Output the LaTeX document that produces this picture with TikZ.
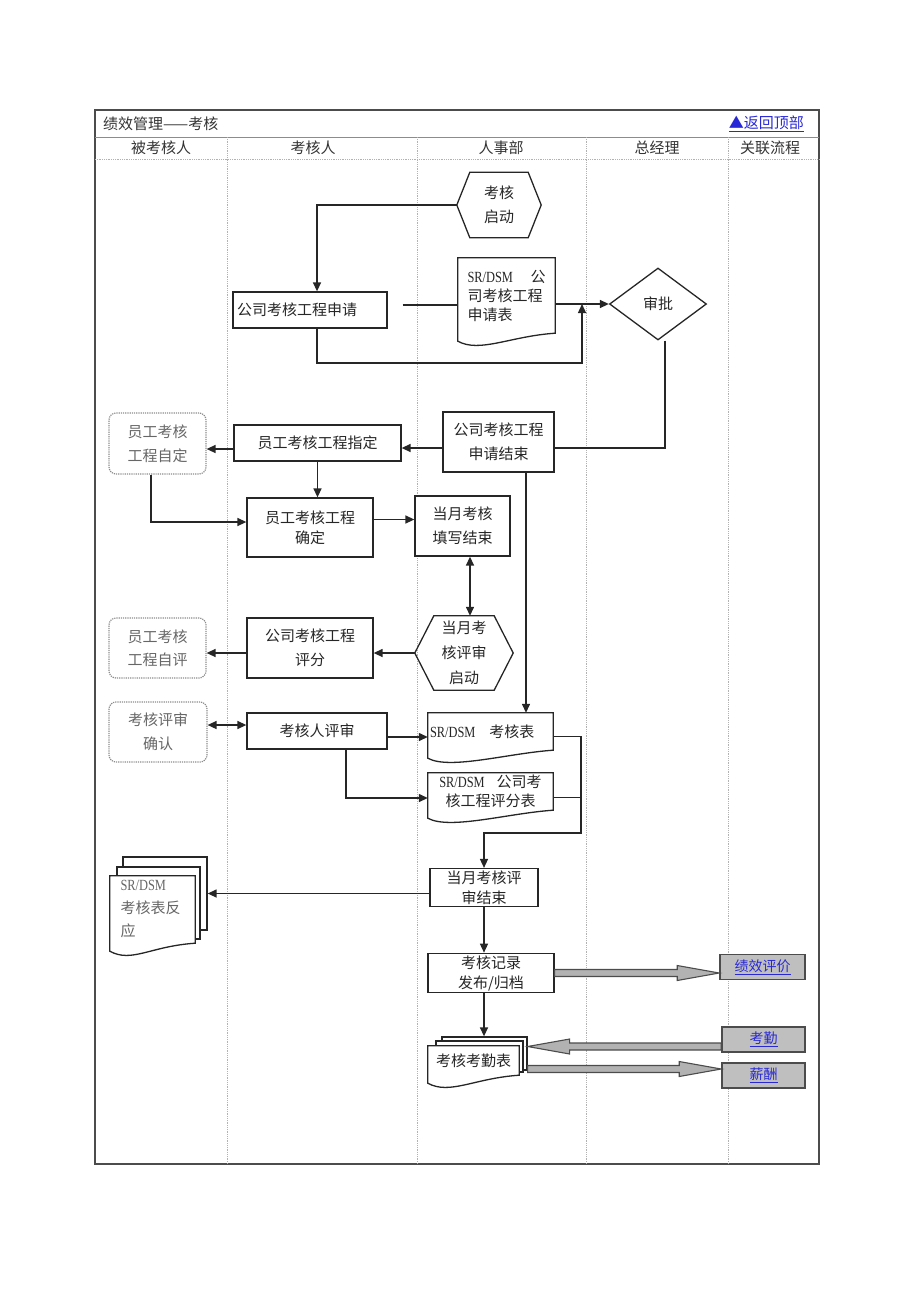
\documentclass[tikz,border=0pt]{standalone}
\usepackage{fontspec}
\setmainfont{Liberation Serif}
\newfontfamily\cjk{Noto Sans CJK SC}
\newfontfamily\latfont{Liberation Serif}[FakeStretch=0.8]
\usetikzlibrary{arrows.meta,calc,shapes.geometric}
\definecolor{linkblue}{RGB}{40,40,215}
\newcommand{\lat}[1]{{\latfont\fontsize{15.5}{15.5}\selectfont #1}}
\tikzset{
  cjkfont/.style={font=\cjk\fontsize{15}{24}\selectfont},
  tight/.style={font=\cjk\fontsize{15}{20}\selectfont},
  headtext/.style={font=\cjk\fontsize{15}{18}\selectfont, text=black!80, inner sep=0pt},
  flowbox/.style={draw=black!85, line width=1.3pt, fill=white, text=black!85, cjkfont, align=center, inner sep=2pt},
  selfbox/.style={draw=black!45, densely dotted, line width=1.2pt, rounded corners=7pt, text=black!60, cjkfont, align=center},
  docbox/.style={fill=white, text=black!85, cjkfont, inner sep=2pt},
  docback/.style={draw=black!85, line width=1.3pt, fill=white, inner sep=0pt},
  hexbox/.style={text=black!85, cjkfont, align=center},
  linkbox/.style={draw=black!70, line width=1.6pt, fill=black!25, text=linkblue, font=\cjk\fontsize{14}{16}\selectfont, inner sep=0pt},
  flowline/.style={line width=1.4pt, draw=black!85, >={Triangle[length=9pt,width=8pt]}},
  boxline/.style={line width=1.3pt, draw=black!85},
  blockfill/.style={draw=black!70, line width=1.1pt, fill=black!30},
  divider/.style={draw=black!30, densely dotted, line width=0.8pt}
}
% document outline with wavy bottom
\newcommand{\docframe}[1]{%
  \draw[boxline] (#1.south east) -- (#1.north east) -- (#1.north west) -- ([yshift=-8pt]#1.south west)
    .. controls ($(#1.south west)+(22,-20)$) and ($(#1.south east)+(-45,-3)$) .. (#1.south east) -- cycle;}
% hexagon outline round a node
\newcommand{\hexframe}[2]{%
  \draw[boxline] (#1.west) -- ([xshift=#2]#1.north west) -- ([xshift=-#2]#1.north east) -- (#1.east)
    -- ([xshift=-#2]#1.south east) -- ([xshift=#2]#1.south west) -- cycle;}
% wide grey arrow, horizontal
\newcommand{\blockarrow}[2]{%
  \path[blockfill] let \p1=(#1), \p2=(#2), \n1={sign(\x2-\x1)} in
    (\x1,\y1+3.5pt) -- (\x2-42pt*\n1,\y1+3.5pt) -- (\x2-42pt*\n1,\y1+7.5pt) -- (\x2,\y1)
    -- (\x2-42pt*\n1,\y1-7.5pt) -- (\x2-42pt*\n1,\y1-3.5pt) -- (\x1,\y1-3.5pt) -- cycle;}

\begin{document}
\begin{tikzpicture}[x=1pt,y=1pt]
    \useasboundingbox (0,0) rectangle (920,-1302);
    % table
    \draw[black!70, line width=1.2pt] (95,-110) rectangle (819,-1164);
    \draw[black!45, line width=0.8pt] (95,-137) -- (819,-137);
    \draw[divider] (95,-159) -- (819,-159);
    \foreach \xc in {227,417,586,728} \draw[divider] (\xc,-137) -- (\xc,-1164);

    \node[headtext, anchor=west] (title) at (103,-124) {绩效管理——考核};
    \node[headtext, anchor=east, text=linkblue] (totop) at (804,-124) {\underline{▲返回顶部}};
    \node[headtext] (lane1) at (161,-148) {被考核人};
    \node[headtext] (lane2) at (313,-148) {考核人};
    \node[headtext] (lane3) at (501,-148) {人事部};
    \node[headtext] (lane4) at (657,-148) {总经理};
    \node[headtext] (lane5) at (770,-148) {关联流程};

    % application
    \node[hexbox, minimum width=84pt, minimum height=65pt] (kstart) at (499,-205) {考核\\启动};
    \hexframe{kstart}{13pt}
    \node[flowbox, text width=146pt, align=left, inner xsep=4pt, minimum height=36pt] (apply) at (310,-310) {公司考核工程申请};
    \node[docbox, text width=78pt, align=left, inner xsep=9.5pt, minimum height=75pt, font=\cjk\fontsize{15}{19}\selectfont] (appform) at (506.5,-295.5) {\lat{SR/DSM}\hfill 公\\司考核工程\\申请表};
    \docframe{appform}
    \node[flowbox, diamond, minimum width=97pt, minimum height=72pt, inner sep=0pt] (approve) at (658,-304) {审批};
    \coordinate (joinA) at (582,-304);
    \coordinate (loopA) at (582,-363);

    \draw[flowline,->] (kstart.west) -| ([xshift=7pt]apply.north);
    \draw[flowline] ([xshift=15pt,yshift=5pt]apply.east) -- ([yshift=5pt]apply.east -| appform.west);
    \draw[flowline,->] (appform.east |- approve.west) -- (approve.west);
    \draw[flowline,->] ([xshift=7pt]apply.south) |- (loopA) -- (joinA);

    % assignment
    \node[flowbox, minimum width=111pt, minimum height=60pt] (appdone) at (498.5,-442) {公司考核工程\\申请结束};
    \node[flowbox, minimum width=167pt, minimum height=36pt] (assign) at (317.5,-443) {员工考核工程指定};
    \node[selfbox, minimum width=97pt, minimum height=61pt] (selfset) at (157.5,-443.5) {员工考核\\工程自定};
    \node[flowbox, tight, minimum width=126pt, minimum height=59pt] (confirm) at (310,-527.5) {员工考核工程\\确定};
    \node[flowbox, minimum width=95pt, minimum height=60pt] (filldone) at (462.5,-526) {当月考核\\填写结束};

    \draw[flowline] ([xshift=7pt]approve.south) |- ([yshift=-6pt]appdone.east);
    \draw[flowline,->] ([yshift=-6pt]appdone.west) -- ([yshift=-6pt]appdone.west -| assign.east);
    \draw[flowline,->] ([yshift=-6pt]assign.west) -- ([yshift=-6pt]assign.west -| selfset.east);
    \draw[flowline,->] (assign.south) -- (assign.south |- confirm.north);
    \draw[flowline,->] ([xshift=-6.5pt]selfset.south) |- ([yshift=5.5pt]confirm.west);
    \draw[flowline,->] ([yshift=8pt]confirm.east) -- ([yshift=8pt]confirm.east -| filldone.west);

    % review
    \node[hexbox, font=\cjk\fontsize{15}{25}\selectfont, minimum width=98pt, minimum height=74pt] (rvstart) at (464,-653) {当月考\\核评审\\启动};
    \hexframe{rvstart}{19pt}
    \node[flowbox, minimum width=126pt, minimum height=60pt] (score) at (310,-648) {公司考核工程\\评分};
    \node[selfbox, font=\cjk\fontsize{15}{23}\selectfont, minimum width=97pt, minimum height=60pt] (selfscore) at (157.5,-648) {员工考核\\工程自评};
    \node[selfbox, minimum width=98pt, minimum height=60pt] (reviewok) at (158,-732) {考核评审\\确认};
    \node[flowbox, minimum width=140pt, minimum height=36pt] (review) at (317,-731) {考核人评审};
    \node[docbox, text width=121pt, align=left, inner xsep=2pt, minimum height=37pt] (evalform) at (490.5,-731.5) {\lat{SR/DSM}\hspace{14pt}考核表};
    \docframe{evalform}
    \node[docbox, align=center, minimum width=125pt, minimum height=37pt, font=\cjk\fontsize{15}{19}\selectfont] (scoreform) at (490.5,-791.5) {\lat{SR/DSM}\hspace{12pt}公司考\\核工程评分表};
    \docframe{scoreform}
    \node[flowbox, tight, minimum width=108pt, minimum height=37pt] (rvdone) at (484,-887.5) {当月考核评\\审结束};
    \coordinate (joinB) at (581,-833);

    \draw[flowline,->] ([xshift=27.5pt]appdone.south) -- ([xshift=27.5pt]appdone.south |- evalform.north);
    \draw[flowline,<->] ([xshift=7.5pt]filldone.south) -- ([xshift=7.5pt]filldone.south |- rvstart.north);
    \draw[flowline,->] (rvstart.west) -- (rvstart.west -| score.east);
    \draw[flowline,->] ([yshift=-5pt]score.west) -- ([yshift=-5pt]score.west -| selfscore.east);
    \draw[flowline,<->] ([yshift=6pt]review.west) -- ([yshift=6pt]review.west -| reviewok.east);
    \draw[flowline,->] ([yshift=-6pt]review.east) -- ([yshift=-6pt]review.east -| evalform.west);
    \draw[flowline,->] ([xshift=29pt]review.south) |- ([yshift=-6.5pt]scoreform.west);
    \draw[flowline,->] ([yshift=-5pt]evalform.east) -| (joinB) -| (rvdone.north);
    \draw[flowline] ([yshift=-6pt]scoreform.east) -- ([yshift=-6pt]scoreform.east -| joinB);

    % feedback and archive
    \node[docback, minimum width=84pt, minimum height=73pt] (feedback3) at (165,-893.5) {};
    \node[docback, minimum width=83pt, minimum height=72pt] (feedback2) at (158.5,-903) {};
    \node[docbox, text=black!60, text width=64pt, align=left, inner xsep=10.5pt, minimum height=67pt, font=\cjk\fontsize{15}{23}\selectfont] (feedback) at (152.5,-909.5) {\lat{SR/DSM}\\考核表反\\应};
    \docframe{feedback}
    \node[flowbox, tight, minimum width=126pt, minimum height=38pt] (publish) at (491,-973) {考核记录\\发布/归档};
    \node[docback, minimum width=85pt, minimum height=33pt] (attform3) at (484.5,-1053.5) {};
    \node[docback, minimum width=87pt, minimum height=31pt] (attform2) at (479.5,-1056.5) {};
    \node[docbox, align=center, minimum width=91pt, minimum height=29pt] (attform) at (473.5,-1060.5) {考核考勤表};
    \docframe{attform}

    \node[linkbox, minimum width=85pt, minimum height=25pt] (linkperf) at (762.5,-967) {\underline{绩效评价}};
    \node[linkbox, minimum width=83pt, minimum height=25pt] (linkatt) at (763.5,-1039.5) {\underline{考勤}};
    \node[linkbox, minimum width=83pt, minimum height=25pt] (linkpay) at (763.5,-1075.5) {\underline{薪酬}};

    \draw[flowline,->] ([yshift=-6pt]rvdone.west) -- ([yshift=-6pt]rvdone.west -| feedback3.east);
    \draw[flowline,->] (rvdone.south) -- (rvdone.south |- publish.north);
    \draw[flowline,->] ([xshift=-7pt]publish.south) -- ([xshift=-7pt]publish.south |- attform3.north);
    \blockarrow{publish.east}{linkperf.west}
    \blockarrow{[yshift=-7pt]linkatt.west}{attform3.east}
    \blockarrow{[yshift=-15.5pt]attform3.east}{linkpay.west}
\end{tikzpicture}
\end{document}
